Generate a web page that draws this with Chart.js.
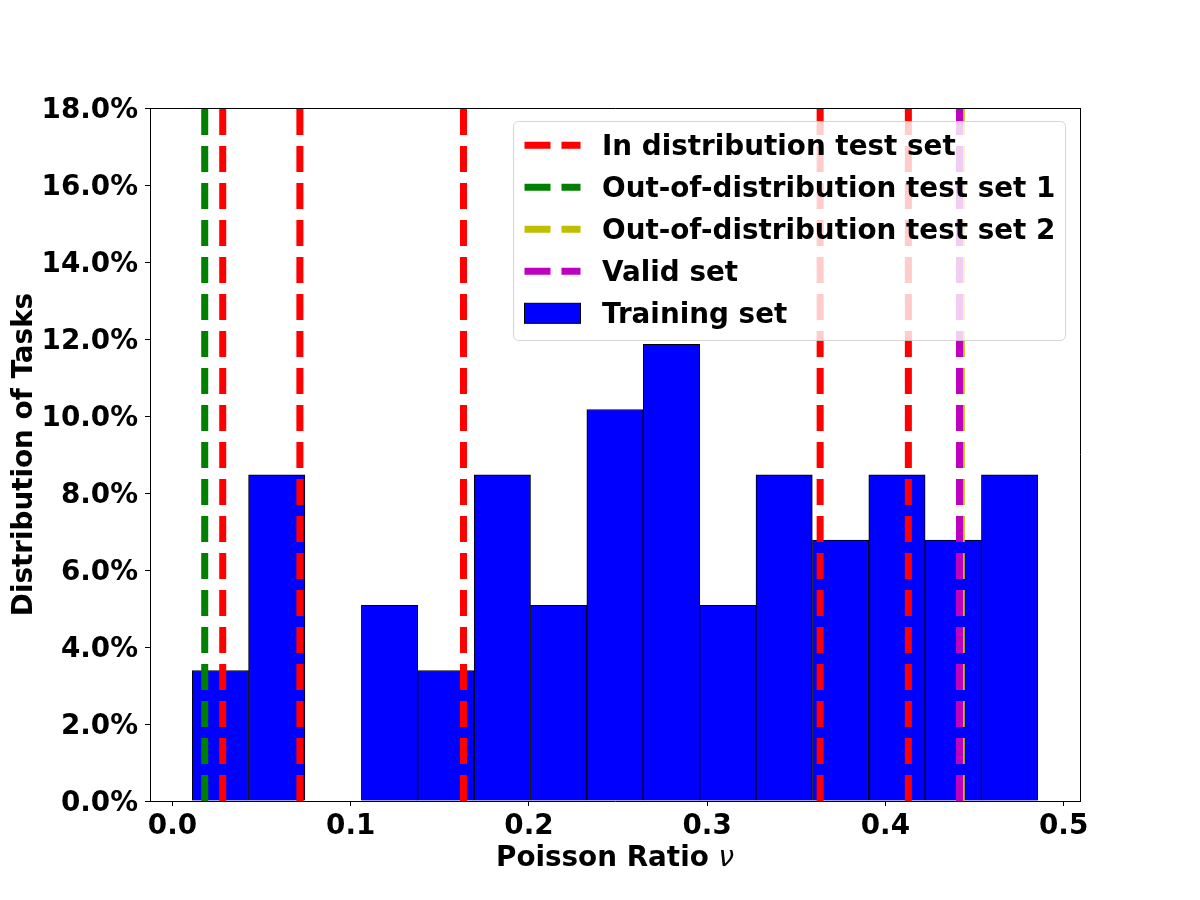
<!DOCTYPE html>
<html><head><meta charset="utf-8">
<script src="https://cdn.jsdelivr.net/npm/chart.js@4.4.1/dist/chart.umd.min.js"></script>
<style>html,body{margin:0;padding:0;background:#fff;} canvas{display:block;}</style>
</head><body>
<canvas id="c" width="1200" height="900"></canvas>
<script>
// ---- data ----
const binCenters = [0.0269, 0.0585, 0.0902, 0.1218, 0.1534, 0.1851, 0.2167, 0.2483, 0.2800, 0.3116, 0.3432, 0.3749, 0.4065, 0.4381, 0.4697];
const trainingPercent = [3.39, 8.47, 0, 5.08, 3.39, 8.47, 5.08, 10.17, 11.86, 5.08, 8.47, 6.78, 8.47, 6.78, 8.47];
const inDistributionTest = [0.0282, 0.0715, 0.1633, 0.3634, 0.4129];
const outOfDistribution1 = [0.0181];
const outOfDistribution2 = [0.4426];
const validSet = [0.4416];
const xTicks = [0.0, 0.1, 0.2, 0.3, 0.4, 0.5];
const yTicks = [0, 2, 4, 6, 8, 10, 12, 14, 16, 18];
const xLimits = [-0.0126, 0.5092];
const yLimits = [0, 18];
const legendLabels = ['In distribution test set', 'Out-of-distribution test set 1', 'Out-of-distribution test set 2', 'Valid set', 'Training set'];
const xTitle = 'Poisson Ratio ';
const xTitleSymbol = 'ν';
const yTitle = 'Distribution of Tasks';

// ---- styles ----
const FONT = '"DejaVu Sans", "Liberation Sans", sans-serif';
const FS = 27.8;
const colors = { inDist: '#ff0000', ood1: '#008000', ood2: '#bfbf00', valid: '#bf00bf', train: '#0000ff' };
const DASH = [26, 11];
const LW = 7;

function vlines(xs, color, label, order) {
  return xs.map(x => ({
    type: 'line', label: label,
    data: [{ x: x, y: yLimits[0] }, { x: x, y: yLimits[1] }],
    borderColor: color, borderWidth: LW, borderDash: DASH, borderCapStyle: 'butt',
    pointRadius: 0, fill: false, order: order, tension: 0
  }));
}

const datasets = [
  {
    type: 'bar', label: legendLabels[4],
    data: binCenters.map((c, i) => ({ x: c, y: trainingPercent[i] })),
    backgroundColor: colors.train, borderColor: '#000000', borderWidth: 1,
    barPercentage: 1.0, categoryPercentage: 1.0, order: 10
  },
  ...vlines(inDistributionTest, colors.inDist, legendLabels[0], 4),
  ...vlines(outOfDistribution1, colors.ood1, legendLabels[1], 3),
  ...vlines(outOfDistribution2, colors.ood2, legendLabels[2], 2),
  ...vlines(validSet, colors.valid, legendLabels[3], 1)
];

const bgPlugin = {
  id: 'bg',
  beforeDraw(chart) {
    const ctx = chart.ctx; ctx.save(); ctx.fillStyle = '#fff';
    ctx.fillRect(0, 0, chart.width, chart.height); ctx.restore();
  }
};

const framePlugin = {
  id: 'frame',
  afterDatasetsDraw(chart) {
    const { left, right, top, bottom } = chart.chartArea;
    const ctx = chart.ctx; ctx.save();
    ctx.strokeStyle = '#000'; ctx.lineWidth = 1;
    ctx.beginPath();
    ctx.moveTo(left, top + 0.5); ctx.lineTo(right + 0.5, top + 0.5);
    ctx.moveTo(right + 0.5, top); ctx.lineTo(right + 0.5, bottom);
    ctx.stroke();
    ctx.restore();
  }
};

const xTitlePlugin = {
  id: 'xtitle',
  afterDraw(chart) {
    const ctx = chart.ctx; const ca = chart.chartArea;
    ctx.save();
    ctx.fillStyle = '#000'; ctx.textBaseline = 'alphabetic'; ctx.textAlign = 'left';
    ctx.font = 'bold ' + FS + 'px ' + FONT;
    const wa = ctx.measureText(xTitle).width;
    ctx.font = 'oblique ' + FS + 'px ' + FONT;
    const wb = ctx.measureText(xTitleSymbol).width;
    const cx = (ca.left + ca.right) / 2;
    const x0 = cx - (wa + wb) / 2;
    const base = 866;
    ctx.font = 'bold ' + FS + 'px ' + FONT;
    ctx.fillText(xTitle, x0, base);
    ctx.font = 'oblique ' + FS + 'px ' + FONT;
    ctx.fillText(xTitleSymbol, x0 + wa, base);
    ctx.restore();
  }
};

const legendPlugin = {
  id: 'mplLegend',
  afterDraw(chart) {
    const ctx = chart.ctx;
    ctx.save();
    const bx = 513.5, by = 121.5, bw = 552, bh = 219, r = 5;
    ctx.beginPath();
    ctx.roundRect(bx, by, bw, bh, r);
    ctx.fillStyle = 'rgba(255,255,255,0.8)';
    ctx.fill();
    ctx.strokeStyle = 'rgba(204,204,204,0.8)';
    ctx.lineWidth = 1;
    ctx.stroke();
    const rows = [145.3, 187.3, 229.3, 271.3, 313.3];
    const lineColors = [colors.inDist, colors.ood1, colors.ood2, colors.valid];
    const hx0 = 524.5, hx1 = 580.5, tx = 602;
    for (let i = 0; i < 4; i++) {
      ctx.beginPath();
      ctx.setLineDash(DASH);
      ctx.lineDashOffset = 0;
      ctx.lineCap = 'butt';
      ctx.strokeStyle = lineColors[i];
      ctx.lineWidth = LW;
      ctx.moveTo(hx0, rows[i]); ctx.lineTo(hx1, rows[i]);
      ctx.stroke();
    }
    ctx.setLineDash([]);
    ctx.fillStyle = colors.train;
    ctx.fillRect(hx0, rows[4] - 10, hx1 - hx0, 20);
    ctx.strokeStyle = '#000'; ctx.lineWidth = 1;
    ctx.strokeRect(hx0, rows[4] - 10, hx1 - hx0, 20);
    ctx.fillStyle = '#000';
    ctx.font = 'bold ' + FS + 'px ' + FONT;
    ctx.textBaseline = 'alphabetic'; ctx.textAlign = 'left';
    for (let i = 0; i < 5; i++) {
      ctx.fillText(legendLabels[i], tx, rows[i] + 10);
    }
    ctx.restore();
  }
};

new Chart(document.getElementById('c'), {
  data: { datasets },
  options: {
    responsive: false, animation: false, events: [],
    devicePixelRatio: 1,
    layout: { padding: { top: 108, right: 120, left: 0, bottom: 0 } },
    plugins: { legend: { display: false }, tooltip: { enabled: false }, title: { display: false } },
    scales: {
      x: {
        type: 'linear', min: xLimits[0], max: xLimits[1], offset: false,
        afterFit(scale) { scale.height = 99; },
        afterBuildTicks(scale) { scale.ticks = xTicks.map(v => ({ value: v })); },
        grid: { display: true, offset: false, drawOnChartArea: false, drawTicks: true, tickLength: 5, tickColor: '#000', tickWidth: 1 },
        border: { display: true, color: '#000', width: 1 },
        ticks: { color: '#000', padding: 4, maxRotation: 0, autoSkip: false,
          font: { family: FONT, size: FS, weight: 'bold' },
          callback: v => Number(v).toFixed(1) }
      },
      y: {
        type: 'linear', min: yLimits[0], max: yLimits[1],
        afterFit(scale) { scale.width = 150; },
        afterBuildTicks(scale) { scale.ticks = yTicks.map(v => ({ value: v })); },
        grid: { display: true, offset: false, drawOnChartArea: false, drawTicks: true, tickLength: 5, tickColor: '#000', tickWidth: 1 },
        border: { display: true, color: '#000', width: 1 },
        ticks: { color: '#000', padding: 7, autoSkip: false, labelOffset: 3,
          font: { family: FONT, size: FS, weight: 'bold' },
          callback: v => Number(v).toFixed(1) + '%' },
        title: { display: true, text: yTitle, color: '#000', padding: { top: 8, bottom: 0 },
          font: { family: FONT, size: FS, weight: 'bold' } }
      }
    }
  },
  plugins: [bgPlugin, framePlugin, xTitlePlugin, legendPlugin]
});
</script>
</body></html>
